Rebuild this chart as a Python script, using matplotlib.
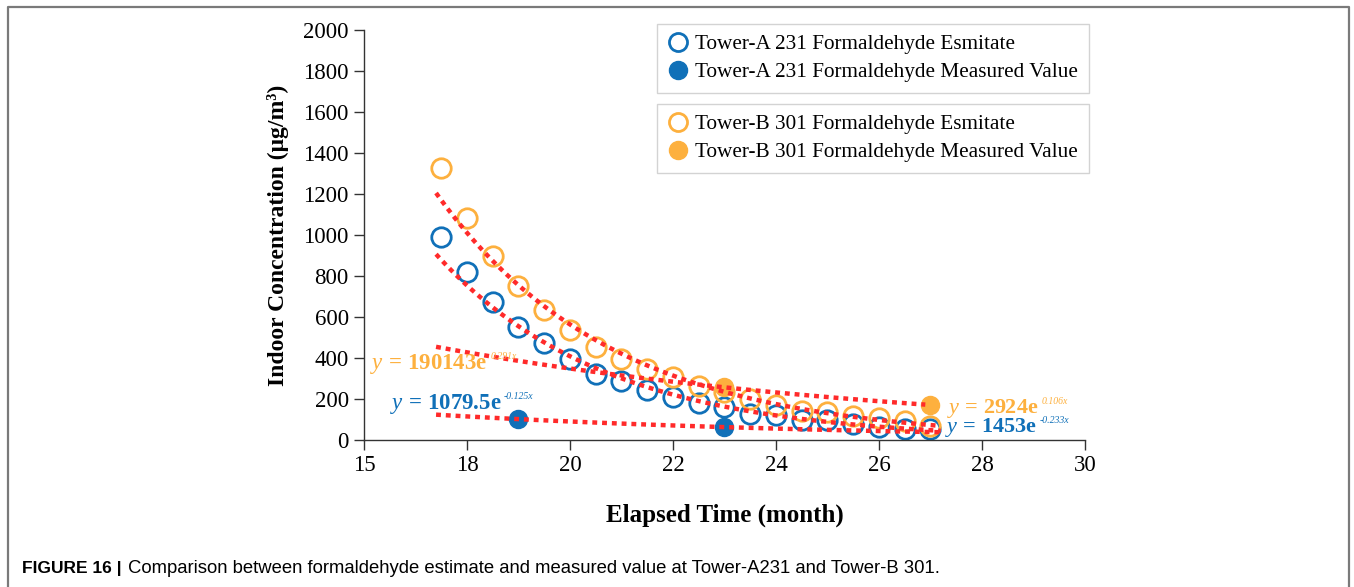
import matplotlib
matplotlib.use('Agg')
import matplotlib.pyplot as plt
from matplotlib.lines import Line2D
import numpy as np

matplotlib.rcParams['font.family'] = 'Liberation Serif'
matplotlib.rcParams['mathtext.fontset'] = 'custom'
matplotlib.rcParams['mathtext.rm'] = 'Liberation Serif'
matplotlib.rcParams['mathtext.it'] = 'Liberation Serif:italic'
matplotlib.rcParams['mathtext.bf'] = 'Liberation Serif:bold'

# elapsed time (month)
months_est = [17.5, 18, 18.5, 19, 19.5, 20, 20.5, 21, 21.5, 22,
              22.5, 23, 23.5, 24, 24.5, 25, 25.5, 26, 26.5, 27]
tower_a_est = [990, 820, 673, 551, 473, 395, 320, 288, 244, 210,
               180, 160, 128, 122, 100, 96, 80, 64, 55, 54]
tower_b_est = [1327, 1083, 898, 751, 634, 539, 454, 395, 345, 306,
               263, 234, 200, 171, 141, 137, 117, 107, 93, 70]

months_a_meas = [19, 23]
tower_a_meas = [102, 63]
months_b_meas = [23, 27]
tower_b_meas = [257, 171]

x_ticks = [16, 18, 20, 22, 24, 26, 28, 30]
x_tick_labels = ['15', '18', '20', '22', '24', '26', '28', '30']
y_ticks = np.arange(0, 2001, 200)

blue = '#1070B8'
orange = '#FDB03E'
red = '#FF2A2A'


def exp_trend(x, y, x0, x1):
    k, b = np.polyfit(x, np.log(y), 1)
    xs = np.linspace(x0, x1, 100)
    return xs, np.exp(b + k * xs)


def main():
    fig = plt.figure(figsize=(13.54, 5.87), dpi=100)
    ax = fig.add_axes([0.2688, 0.2504, 0.8013 - 0.2688, 0.9489 - 0.2504])

    dot = dict(color=red, lw=3.2, ls=(0, (1.1, 1.1)), zorder=3)
    ax.plot(*exp_trend(months_est, tower_a_est, 17.4, 27.2), **dot)
    ax.plot(*exp_trend(months_est, tower_b_est, 17.4, 27.1), **dot)
    ax.plot(*exp_trend(months_a_meas, tower_a_meas, 17.4, 27.2), **dot)
    ax.plot(*exp_trend(months_b_meas, tower_b_meas, 17.4, 26.9), **dot)

    ms = 14
    ax.plot(months_est, tower_a_est, 'o', ms=ms, mfc='none', mec=blue,
            mew=2.0, zorder=2)
    ax.plot(months_est, tower_b_est, 'o', ms=ms, mfc='none', mec=orange,
            mew=2.0, zorder=2)
    ax.plot(months_a_meas, tower_a_meas, 'o', ms=13, color=blue, zorder=2)
    ax.plot(months_b_meas, tower_b_meas, 'o', ms=13, color=orange, zorder=2)

    # trend equations
    eqs = [(16.12, 371, '190143e', '0.291x', orange, 16.5),
           (16.5, 176, '1079.5e', '-0.125x', blue, 16.5),
           (27.32, 154, '2924e', '0.106x', orange, 16),
           (27.28, 62, '1453e', '-0.233x', blue, 16)]
    for ex, ey, num, sup, c, fs in eqs:
        txt = r'$y\,\mathbf{=}\,\mathbf{' + num + '}$'
        t = ax.text(ex, ey, txt, color=c, fontsize=fs, ha='left',
                    va='center', clip_on=False)
        ax.annotate(sup, xy=(1.0, 0.8), xycoords=t, xytext=(2, 0),
                    textcoords='offset points', color=c, fontsize=7,
                    style='italic', ha='left', va='center')

    ax.set_xlim(16, 30)
    ax.set_ylim(0, 2000)
    ax.set_xticks(x_ticks)
    ax.set_xticklabels(x_tick_labels)
    ax.set_yticks(y_ticks)
    for s in ['top', 'right']:
        ax.spines[s].set_visible(False)
    for s in ['left', 'bottom']:
        ax.spines[s].set_linewidth(1.0)
        ax.spines[s].set_color('#333333')
    ax.tick_params(direction='out', length=7, width=1.0, color='#333333',
                   labelsize=16.5, pad=4)
    ax.set_xlabel('Elapsed Time (month)', fontsize=18, fontweight='bold',
                  labelpad=20)
    ax.set_ylabel('Indoor Concentration (μg/m³)', fontsize=17,
                  fontweight='bold', labelpad=10)

    # two legend boxes
    leg_kw = dict(fontsize=15.3, frameon=True, fancybox=False,
                  edgecolor='#c8c8c8', handletextpad=0.3, borderpad=0.5,
                  labelspacing=0.36, handlelength=1.0, borderaxespad=0)
    h1 = [Line2D([], [], ls='', marker='o', ms=13, mfc='none', mec=blue,
                 mew=2.0),
          Line2D([], [], ls='', marker='o', ms=13, color=blue)]
    h2 = [Line2D([], [], ls='', marker='o', ms=13, mfc='none', mec=orange,
                 mew=2.0),
          Line2D([], [], ls='', marker='o', ms=13, color=orange)]
    leg1 = ax.legend(h1, ['Tower-A 231 Formaldehyde Esmitate',
                          'Tower-A 231 Formaldehyde Measured Value'],
                     loc='upper left', bbox_to_anchor=(657 / 1354, 1 - 24 / 587),
                     bbox_transform=fig.transFigure, **leg_kw)
    ax.add_artist(leg1)
    ax.legend(h2, ['Tower-B 301 Formaldehyde Esmitate',
                   'Tower-B 301 Formaldehyde Measured Value'],
              loc='upper left', bbox_to_anchor=(657 / 1354, 1 - 104 / 587),
              bbox_transform=fig.transFigure, **leg_kw)

    # page frame
    fc = '#7a7a7a'
    x0, x1, y0 = 8 / 1354, 1349 / 1354, 1 - 7 / 587
    fig.add_artist(Line2D([x0, x0, x1, x1], [0, y0, y0, 0], color=fc, lw=1.6,
                          transform=fig.transFigure))

    # caption
    fig.text(22 / 1354, 1 - 573 / 587, 'FIGURE 16 |', family='Liberation Sans',
             fontweight='bold', fontsize=12.5, va='baseline')
    fig.text(128 / 1354, 1 - 573 / 587,
             'Comparison between formaldehyde estimate and measured value at '
             'Tower-A231 and Tower-B 301.', family='Liberation Sans',
             fontsize=13.3, va='baseline')

    fig.savefig('out.png', dpi=100)


if __name__ == '__main__':
    main()
